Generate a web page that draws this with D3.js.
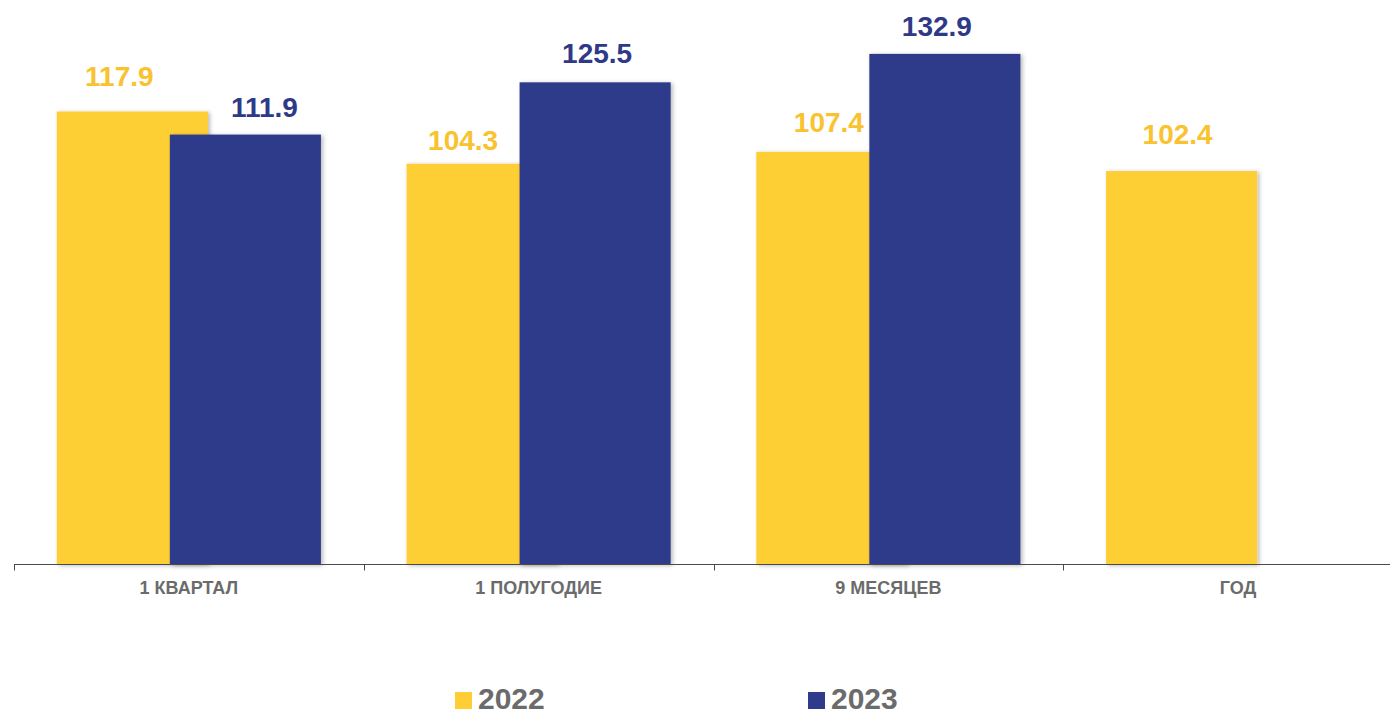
<!DOCTYPE html>
<html>
<head>
<meta charset="utf-8">
<script src="https://cdn.jsdelivr.net/npm/d3@7/dist/d3.min.js"></script>
<style>
  html, body { margin: 0; padding: 0; background: #ffffff; }
  svg { display: block; font-family: "Liberation Sans", Arial, sans-serif; }
</style>
</head>
<body>
<svg id="chart" width="1390" height="716"></svg>
<script>
const categories = ["1 КВАРТАЛ", "1 ПОЛУГОДИЕ", "9 МЕСЯЦЕВ", "ГОД"];
const seriesNames = ["2022", "2023"];
const values2022 = [117.9, 104.3, 107.4, 102.4];
const values2023 = [111.9, 125.5, 132.9, null];
const seriesColors = ["#FECE34", "#2F3B8B"];
const labelColors = ["#F9C22E", "#2E3A88"];

// layout-only label nudges (dx, gap above bar) as placed in the original
const labelDx = [[-13, -19, -3, -4], [19, 2, -8, 0]];
const labelGap = [[26, 14, 20, 27], [18, 19, 18, 0]];

const svg = d3.select("#chart");
const W = 1390, H = 716;
const baseline = 564.5;

const defs = svg.append("defs");
const f = defs.append("filter").attr("id", "shadow")
  .attr("x", "-10%").attr("y", "-10%").attr("width", "120%").attr("height", "120%");
f.append("feDropShadow").attr("dx", 2).attr("dy", 1).attr("stdDeviation", 2)
  .attr("flood-color", "#000").attr("flood-opacity", 0.28);

const x = d3.scaleBand().domain(categories).range([14, 1413]).paddingInner(0).paddingOuter(0);
const y = d3.scaleLinear().domain([0, 140]).range([baseline, baseline - 140 * 3.842]);

const step = x.step();
const barW = step * 0.432;
const shift = barW * 0.748;

const series = [values2022, values2023];
const barX = (c, si) => x(c) + step / 2 - (barW + shift) / 2 + si * shift;

// bars
series.forEach((vals, si) => {
  const g = svg.append("g");
  g.selectAll("rect")
    .data(categories.map((c, i) => ({ c, v: vals[i] })).filter(d => d.v != null))
    .enter().append("rect")
    .attr("x", d => barX(d.c, si))
    .attr("y", d => y(d.v))
    .attr("width", barW)
    .attr("height", d => y(0) - y(d.v))
    .attr("fill", seriesColors[si])
    .attr("filter", "url(#shadow)");
});

// axis
const axisG = svg.append("g");
axisG.append("line")
  .attr("x1", x.range()[0]).attr("x2", W)
  .attr("y1", baseline).attr("y2", baseline)
  .attr("stroke", "#4a4a4a").attr("stroke-width", 1.2);
axisG.selectAll("line.tick")
  .data(categories)
  .enter().append("line").attr("class", "tick")
  .attr("x1", d => Math.round(x(d)) + 0.5).attr("x2", d => Math.round(x(d)) + 0.5)
  .attr("y1", baseline).attr("y2", baseline + 6)
  .attr("stroke", "#4a4a4a").attr("stroke-width", 1);
axisG.selectAll("text")
  .data(categories)
  .enter().append("text")
  .attr("x", d => x(d) + step / 2)
  .attr("y", 594)
  .attr("text-anchor", "middle")
  .attr("font-size", 18)
  .attr("font-weight", "bold")
  .attr("fill", "#6b6b6b")
  .text(d => d);

// value labels
series.forEach((vals, si) => {
  svg.append("g").selectAll("text")
    .data(categories.map((c, i) => ({ c, v: vals[i], i })).filter(d => d.v != null))
    .enter().append("text")
    .attr("x", d => barX(d.c, si) + barW / 2 + labelDx[si][d.i])
    .attr("y", d => y(d.v) - labelGap[si][d.i])
    .attr("text-anchor", "middle")
    .attr("font-size", 28)
    .attr("font-weight", "bold")
    .attr("fill", labelColors[si])
    .text(d => d.v.toFixed(1));
});

// legend
const legendX = [455, 808];
const leg = svg.append("g");
seriesNames.forEach((name, si) => {
  leg.append("rect")
    .attr("x", legendX[si]).attr("y", 692)
    .attr("width", 17).attr("height", 17)
    .attr("fill", seriesColors[si]);
  leg.append("text")
    .attr("x", legendX[si] + 23).attr("y", 709)
    .attr("font-size", 30)
    .attr("font-weight", "bold")
    .attr("fill", "#6b6b6b")
    .text(name);
});
</script>
</body>
</html>
